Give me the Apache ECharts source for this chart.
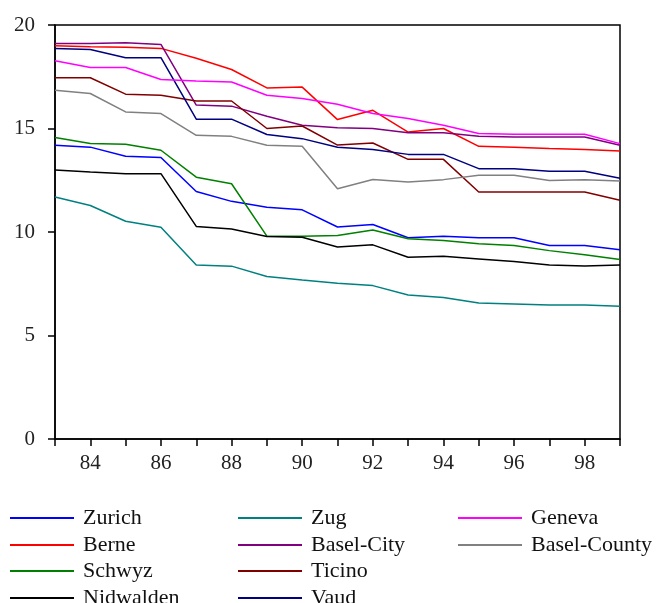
<!DOCTYPE html>
<html>
<head>
<meta charset="utf-8">
<script src="https://cdn.jsdelivr.net/npm/echarts@6/dist/echarts.min.js"></script>
<style>
html, body { margin: 0; padding: 0; background: #fff; }
#main { width: 658px; height: 603px; }
</style>
</head>
<body>
<div id="main"></div>
<script>
var years = [83, 84, 85, 86, 87, 88, 89, 90, 91, 92, 93, 94, 95, 96, 97, 98, 99];

var zurich      = [14.19, 14.1, 13.66, 13.6, 11.96, 11.48, 11.2, 11.07, 10.24, 10.36, 9.72, 9.8, 9.72, 9.72, 9.35, 9.35, 9.14];
var berne       = [19.0, 18.95, 18.92, 18.87, 18.39, 17.85, 16.96, 17.0, 15.43, 15.88, 14.83, 15.0, 14.14, 14.1, 14.03, 13.98, 13.91];
var schwyz      = [14.56, 14.27, 14.24, 13.95, 12.65, 12.33, 9.8, 9.8, 9.83, 10.1, 9.67, 9.59, 9.43, 9.35, 9.1, 8.9, 8.67];
var nidwalden   = [13.0, 12.9, 12.82, 12.82, 10.27, 10.15, 9.78, 9.75, 9.28, 9.38, 8.78, 8.83, 8.7, 8.57, 8.41, 8.36, 8.41];
var zug         = [11.69, 11.28, 10.52, 10.23, 8.41, 8.35, 7.85, 7.68, 7.53, 7.41, 6.96, 6.84, 6.57, 6.52, 6.47, 6.47, 6.41];
var baselCity   = [19.11, 19.11, 19.14, 19.06, 16.13, 16.08, 15.59, 15.16, 15.04, 15.0, 14.79, 14.79, 14.62, 14.59, 14.59, 14.59, 14.19];
var ticino      = [17.45, 17.45, 16.66, 16.61, 16.33, 16.33, 15.0, 15.12, 14.2, 14.3, 13.51, 13.51, 11.93, 11.93, 11.93, 11.93, 11.53];
var vaud        = [18.87, 18.82, 18.42, 18.42, 15.45, 15.45, 14.71, 14.51, 14.09, 13.98, 13.75, 13.75, 13.06, 13.06, 12.94, 12.94, 12.6];
var geneva      = [18.27, 17.95, 17.95, 17.37, 17.29, 17.25, 16.61, 16.45, 16.17, 15.72, 15.48, 15.16, 14.76, 14.72, 14.72, 14.72, 14.27];
var baselCounty = [16.85, 16.69, 15.8, 15.72, 14.67, 14.62, 14.19, 14.14, 12.09, 12.54, 12.41, 12.53, 12.74, 12.74, 12.49, 12.53, 12.46];

var names  = ['Zurich', 'Berne', 'Schwyz', 'Nidwalden', 'Zug', 'Basel-City', 'Ticino', 'Vaud', 'Geneva', 'Basel-County'];
var values = [zurich, berne, schwyz, nidwalden, zug, baselCity, ticino, vaud, geneva, baselCounty];
var colors = ['#0000ff', '#ff0000', '#008000', '#000000', '#008080', '#800080', '#800000', '#000080', '#ff00ff', '#808080'];

var font = 'Liberation Serif';

function pairs(arr) {
    return years.map(function (y, i) { return [y, arr[i]]; });
}

// legend laid out in 3 columns, 4 rows (column-major), one legend per entry
var colX = [10, 238, 458];
var rowY = [505, 532, 558, 585];
var legends = names.map(function (n, i) {
    return {
        left: colX[Math.floor(i / 4)],
        top: rowY[i % 4],
        icon: 'rect',
        itemWidth: 64,
        itemHeight: 2,
        padding: 0,
        textStyle: {
            fontFamily: font,
            fontSize: 22,
            lineHeight: 26,
            color: '#111',
            padding: [0, 0, 0, 4]
        },
        data: [n]
    };
});

var main = echarts.init(document.getElementById('main'));
var option = {
    animation: false,
    color: colors,
    grid: {
        left: 55,
        right: 38,
        top: 25,
        bottom: 164,
        show: true,
        borderColor: '#000',
        borderWidth: 1.5
    },
    legend: legends,
    xAxis: {
        type: 'value',
        min: 83,
        max: 99,
        interval: 1,
        splitLine: { show: false },
        axisLine: { lineStyle: { color: '#000', width: 1.5 } },
        axisTick: { length: 7, lineStyle: { color: '#000', width: 1.5 } },
        axisLabel: {
            margin: 14,
            fontFamily: font,
            fontSize: 21,
            color: '#222',
            formatter: function (v) { return v % 2 === 0 ? String(v) : ''; }
        }
    },
    yAxis: {
        type: 'value',
        min: 0,
        max: 20,
        interval: 5,
        splitLine: { show: false },
        axisLine: { show: true, lineStyle: { color: '#000', width: 1.5 } },
        axisTick: { show: true, length: 7, lineStyle: { color: '#000', width: 1.5 } },
        axisLabel: {
            margin: 20,
            fontFamily: font,
            fontSize: 21,
            color: '#222',
            verticalAlign: 'middle',
            padding: [0, 0, 6, 0]
        }
    },
    series: names.map(function (n, i) {
        return {
            name: n,
            type: 'line',
            showSymbol: false,
            lineStyle: { width: 1.5 },
            data: pairs(values[i])
        };
    })
};
main.setOption(option);
</script>
</body>
</html>
